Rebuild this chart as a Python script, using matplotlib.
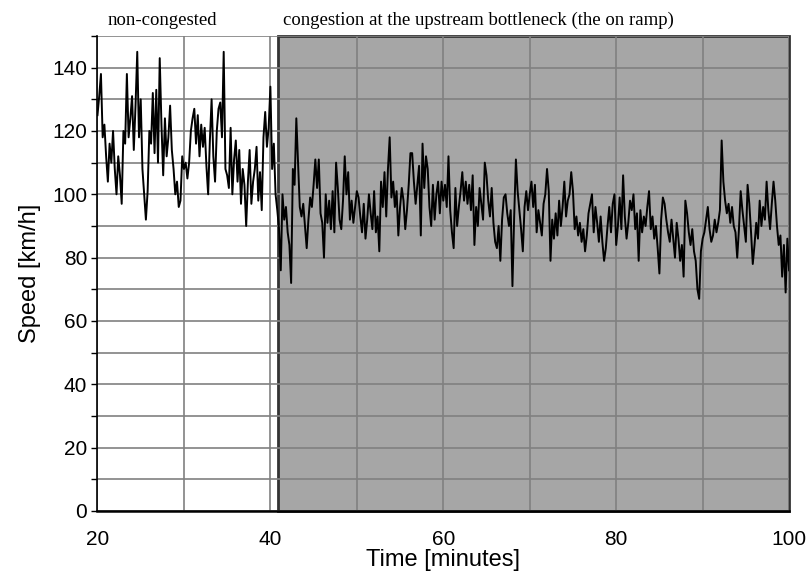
import matplotlib.pyplot as plt
import numpy as np
from matplotlib.patches import Rectangle
from matplotlib.transforms import blended_transform_factory

# speed [km/h], one sample every 0.2 min from minute 20
speed_20_27 = [125, 131, 138, 118, 122, 112, 104, 116, 110, 120, 108, 100, 112, 106, 97, 120, 116, 138, 118,
               124, 131, 114, 128, 145, 118, 130, 108, 100, 92, 101, 120, 116, 132, 113, 133, 110, 143]
speed_27_34 = [122, 106, 124, 112, 118, 128, 114, 108, 100, 104, 96, 98, 112, 108, 110, 105, 110, 120,
               124, 127, 116, 125, 112, 122, 115, 121, 109, 100, 117, 130, 112, 104, 120, 127, 129, 118]
speed_35_42 = [145, 108, 106, 102, 121, 100, 111, 117, 104, 114, 97, 108, 103, 90, 104, 114, 97, 104,
               108, 115, 98, 107, 95, 118, 126, 115, 121, 134, 108, 116, 100, 95, 89, 76, 100, 92]
speed_42_49 = [96, 88, 84, 72, 108, 103, 124, 110, 96, 93, 97, 90, 83, 92, 99, 96, 103, 111, 102,
               111, 94, 91, 80, 100, 91, 98, 89, 101, 88, 110, 102, 92, 89, 98, 112, 100, 107]
speed_49_56 = [92, 98, 91, 96, 101, 99, 93, 88, 97, 86, 92, 100, 94, 89, 101, 88, 93, 82,
               104, 96, 107, 93, 108, 118, 99, 104, 96, 101, 87, 96, 102, 98, 89, 95, 103, 113]
speed_56_64 = [113, 104, 97, 103, 109, 87, 116, 102, 112, 108, 96, 90, 103, 92, 100, 104, 94, 104, 98,
               103, 96, 112, 95, 88, 83, 102, 90, 96, 101, 107, 98, 104, 97, 103, 95, 106, 84]
speed_64_71 = [96, 90, 102, 97, 92, 110, 106, 98, 93, 102, 91, 85, 83, 90, 79, 92, 99, 100,
               94, 90, 95, 71, 93, 111, 101, 95, 89, 82, 96, 101, 95, 100, 104, 96, 103, 88]
speed_71_78 = [95, 91, 87, 97, 100, 108, 101, 79, 92, 86, 94, 87, 98, 90, 96, 104, 93, 98, 100,
               107, 101, 89, 93, 87, 91, 85, 89, 82, 87, 94, 97, 100, 88, 96, 91, 85, 93]
speed_78_85 = [85, 79, 83, 90, 96, 88, 97, 100, 84, 90, 99, 89, 106, 93, 86, 91, 98, 95,
               100, 89, 94, 79, 95, 88, 93, 90, 96, 101, 89, 93, 86, 90, 83, 75, 92, 99]
speed_86_93 = [97, 92, 88, 85, 92, 86, 80, 91, 86, 79, 84, 74, 98, 94, 88, 84, 89, 82,
               79, 70, 67, 82, 86, 88, 92, 96, 89, 85, 87, 92, 88, 91, 95, 117, 104, 98]
speed_93_100 = [94, 97, 91, 96, 90, 88, 80, 89, 101, 95, 90, 85, 103, 97, 88, 78, 84, 91, 86,
                98, 90, 96, 92, 104, 95, 89, 97, 104, 98, 90, 84, 87, 74, 84, 69, 86, 76]

sample_step = 0.2
t_start = 20
congestion_start = 40.85

x_ticks = [20, 40, 60, 80, 100]
y_ticks = [0, 20, 40, 60, 80, 100, 120, 140]

speed = np.concatenate([speed_20_27, speed_27_34, speed_35_42, speed_42_49, speed_49_56,
                        speed_56_64, speed_64_71, speed_71_78, speed_78_85, speed_86_93,
                        speed_93_100])
time = t_start + sample_step * np.arange(len(speed))

plt.rcParams['font.family'] = ['Liberation Sans', 'DejaVu Sans']

fig = plt.figure(figsize=(8.07, 5.85), dpi=100)
ax = fig.add_axes([0.1208, 0.1265, 0.857, 0.812])

ax.add_patch(Rectangle((congestion_start, 0), 100 - congestion_start, 150,
                       facecolor='#a6a6a6', edgecolor='#333333', lw=2, zorder=1, clip_on=False))
ax.plot(time, speed, color='black', lw=1.4, zorder=3)

ax.set_xlim(20, 100)
ax.set_ylim(0, 150)
ax.set_xticks(np.arange(20, 101, 10))
ax.set_xticklabels([str(v) if v in x_ticks else '' for v in range(20, 101, 10)])
ax.set_yticks(np.arange(0, 151, 10))
ax.set_yticklabels([str(v) if v in y_ticks else '' for v in range(0, 151, 10)])
ax.grid(color='#808080', lw=1.2)
ax.tick_params(labelsize=15, length=4, width=1, color='black')
ax.tick_params(axis='x', length=0, pad=14)

for s in ['top', 'right']:
    ax.spines[s].set_visible(False)
ax.spines['left'].set_linewidth(1.2)
ax.spines['bottom'].set_linewidth(1.8)

ax.set_xlabel('Time [minutes]', fontsize=17, labelpad=0)
ax.set_ylabel('Speed [km/h]', fontsize=17, labelpad=8)

tr = blended_transform_factory(ax.transData, ax.transAxes)
ax.text(21.2, 1.015, 'non-congested', transform=tr, family='Liberation Serif', fontsize=13.5, va='bottom')
ax.text(41.45, 1.015, 'congestion at the upstream bottleneck (the on ramp)', transform=tr,
        family='Liberation Serif', fontsize=13.5, va='bottom')

fig.savefig('out.png', dpi=100)
